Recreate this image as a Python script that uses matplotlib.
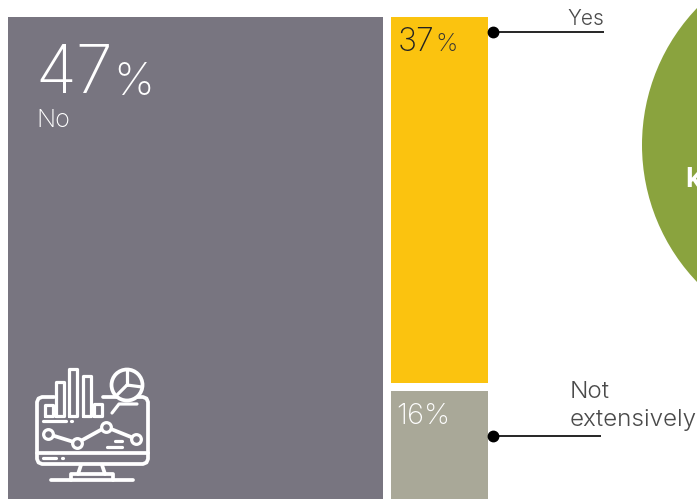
import matplotlib
matplotlib.use('Agg')
import matplotlib.pyplot as plt
from matplotlib.patches import Circle, Rectangle

W, H = 697, 499

# share of answers per column of the block chart
left_labels = ['No']
left_values = [47]
right_labels = ['Yes', 'Not\nextensively']
right_values = [37, 16]

GREY = '#787580'
YELLOW = '#fbc30f'
KHAKI = '#a9a898'
GREEN = '#8aa33e'
TEXT = '#4a4a4a'

plt.rcParams['font.family'] = ['Inter', 'DejaVu Sans']

fig = plt.figure(figsize=(W / 100, H / 100), dpi=100)
ax = fig.add_axes([0, 0, 1, 1])
ax.set_xlim(0, W)
ax.set_ylim(H, 0)
ax.axis('off')

# both columns are normalised to the same height and run off the bottom edge
top = 17
col_h = 524
gap = 8


def stacked(x0, x1, values, colors):
    total = sum(values)
    y = top
    for v, c in zip(values, colors):
        h = col_h * v / total
        ax.add_patch(Rectangle((x0, y), x1 - x0, h, fc=c, ec='none'))
        y += h + gap


stacked(8, 383, left_values, [GREY])
stacked(391, 488, right_values, [YELLOW, KHAKI])

ax.add_patch(Circle((840, 145), 198, fc=GREEN, ec='none'))
ax.text(685, 180, 'k', color='white', fontsize=20, fontweight='bold', va='center', ha='left')

# value labels
ax.text(35, 93, str(left_values[0]), color='white', fontsize=48, fontweight=200, va='baseline')
ax.text(113, 95, '%', color='white', fontsize=33, fontweight=200, va='baseline')
ax.text(36, 127, left_labels[0], color='white', fontsize=18, fontweight=200, va='baseline')

ax.text(398, 51, str(right_values[0]), color='#222222', fontsize=23, fontweight=200, va='baseline')
ax.text(435, 51, '%', color='#333333', fontsize=18, fontweight=200, va='baseline')
ax.text(396, 424, '%d%%' % right_values[1], color='white', fontsize=21, fontweight=200, va='baseline')

# leader lines
ax.plot([493, 604], [32, 32], color='black', lw=1.2, solid_capstyle='butt')
ax.plot([493, 601], [436, 436], color='black', lw=1.2, solid_capstyle='butt')
ax.plot([493, 493], [32, 436], ls='none', marker='o', ms=7.5, color='black')
ax.text(604, 25, right_labels[0], color=TEXT, fontsize=15, fontweight=300, ha='right', va='baseline')
ax.text(570, 398, 'Not', color=TEXT, fontsize=17.4, fontweight=300, va='baseline')
ax.text(570, 426, 'extensively', color=TEXT, fontsize=17.4, fontweight=300, va='baseline')

# monitor icon, outline only
line = dict(color='white', lw=2.7, solid_capstyle='round', solid_joinstyle='round')
thin = dict(color='white', lw=2.3, solid_capstyle='round', solid_joinstyle='round')

# screen frame
ax.plot([54, 42, 38.5, 37, 37, 38.5, 42, 143, 146.5, 148, 148, 146.5, 143, 131],
        [397, 397, 398.5, 402, 459, 462.5, 464, 464, 462.5, 459, 402, 398.5, 397, 397], **line)
ax.plot([37, 148], [453, 453], **line)
ax.plot([103, 119], [397, 397], **line)

# stand
ax.plot([81, 78], [465, 474], **line)
ax.plot([102, 105], [465, 474], **line)
ax.plot([71, 71, 113, 113], [480, 474, 474, 480], **line)
ax.plot([51, 133], [480, 480], **line)

# bars on the screen
for bx, btop in zip([45, 56, 69, 83, 94], [405, 382, 369, 376, 404]):
    ax.plot([bx, bx, bx + 8, bx + 8, bx], [416, btop, btop, 416, 416], **thin)

# pie badge
ax.add_patch(Circle((127, 385), 15.5, fc=GREY, ec='white', lw=2.7, zorder=3))
ax.plot([127, 127], [370, 385], zorder=4, **thin)
ax.plot([127, 142], [385, 387], zorder=4, **thin)
ax.plot([127, 116], [385, 396], zorder=4, **thin)

# trend line and its nodes
node_x = [48, 77, 106, 136]
node_y = [434, 443, 427, 439]
ax.plot(node_x, node_y, **line)
ax.plot(node_x, node_y, ls='none', marker='o', ms=7, mfc=GREY, mec='white', mew=2.3)

# text stubs on the screen
ax.plot([112, 119, 137], [413, 404, 404], **thin)
ax.plot([43, 66], [421, 421], **thin)
ax.plot([71, 71.5], [421, 421], **thin)
ax.plot([115, 122], [441, 441], **thin)
ax.plot([107, 122], [447, 447], **thin)
ax.plot([43, 56], [458, 458], **thin)
ax.plot([62, 62.5], [458, 458], **thin)

fig.savefig('out.png', dpi=100)
